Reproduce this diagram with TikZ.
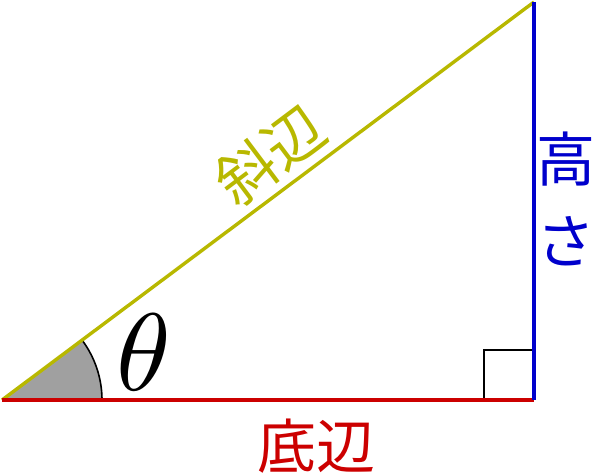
\documentclass[tikz,border=0pt]{standalone}
\usepackage{fontspec}
\newfontfamily\jp{Noto Sans CJK JP}
\definecolor{hypcol}{RGB}{184,184,0}
\definecolor{basecol}{RGB}{204,0,0}
\definecolor{heightcol}{RGB}{0,0,204}
\definecolor{anglefill}{RGB}{160,160,160}
\tikzset{
  side/.style={line width=3.4pt},
  jplabel/.style={font=\jp\fontsize{59}{59}\selectfont, inner sep=0pt},
}
\begin{document}
\begin{tikzpicture}[x=1pt,y=-1pt]
\useasboundingbox (0,0) rectangle (596,475);
\coordinate (A) at (2,400);
\coordinate (B) at (534,400);
\coordinate (C) at (534,2);
% angle sector
\fill[anglefill] (A) -- (102,400) arc[start angle=0, end angle=-36.87, radius=100] -- cycle;
\draw[line width=1.6pt] (102,400) arc[start angle=0, end angle=-36.87, radius=100];
% right angle mark
\coordinate (R1) at (484,400);
\coordinate (R2) at (484,350);
\coordinate (R3) at (534,350);
\draw[line width=2.6pt] (R1) -- (R2) -- (R3);
% sides
\draw[side, hypcol] (A) -- (C);
\draw[side, basecol] (A) -- (B);
\draw[side, heightcol] (B) -- (C);
% labels
\node[jplabel, text=hypcol, rotate=36.87] (hyp) at (270,155) {斜辺};
\node[jplabel, text=basecol] (base) at (316,446) {底辺};
\node[jplabel, text=heightcol] (h1) at (566,159) {高};
\node[jplabel, text=heightcol] (h2) at (566,241) {さ};
\node[scale=11, inner sep=0pt] (theta) at (144,352) {$\theta$};
\end{tikzpicture}
\end{document}
